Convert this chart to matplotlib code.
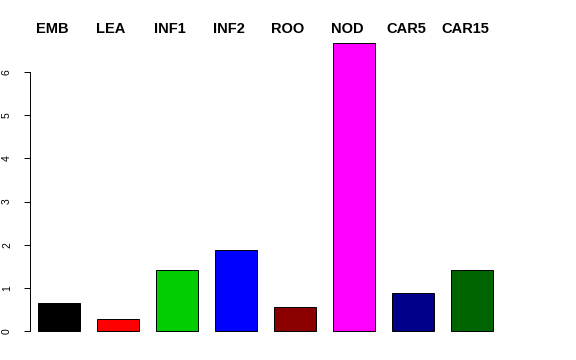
import matplotlib.pyplot as plt
import numpy as np

plt.rcParams["font.family"] = ["Liberation Sans", "DejaVu Sans"]

samples = ["EMB", "LEA", "INF1", "INF2", "ROO", "NOD", "CAR5", "CAR15"]
values = [0.65, 0.28, 1.41, 1.88, 0.56, 6.67, 0.88, 1.41]
colors = ["black", "red", "#00CD00", "blue", "#8B0000", "magenta", "#00008B", "#006400"]
yticks = [0, 1, 2, 3, 4, 5, 6]

W, H = 576, 360
fig = plt.figure(figsize=(W / 100, H / 100), dpi=100)
# axes box in pixels: left 30, right 560, top 30, bottom 338
ax = fig.add_axes([30 / W, (H - 338) / H, 530 / W, 308 / H])

x = np.arange(1, len(samples) + 1)
ax.bar(x, values, width=0.71, color=colors, edgecolor="black", linewidth=0.7)

px_per_unit = (331 - 72) / 6
ax.set_ylim(-(338 - 331) / px_per_unit, (331 - 30) / px_per_unit)
ax.set_xlim(30 / 59, 560 / 59)

for s in ["top", "right", "bottom"]:
    ax.spines[s].set_visible(False)
ax.spines["left"].set_bounds(0, 6)
ax.spines["left"].set_linewidth(0.7)
ax.set_xticks([])
ax.set_yticks(yticks)
ax.tick_params(axis="y", length=4, width=0.7, pad=9, labelsize=7.5)
for lab in ax.get_yticklabels():
    lab.set_rotation(90)
    lab.set_va("center")

for xi, s in zip(x, samples):
    ax.text(xi - 0.12, (331 - 29) / px_per_unit, s, ha="center", va="center",
            fontsize=10.5, fontweight="bold", clip_on=False)

fig.savefig("out.png", dpi=100)
